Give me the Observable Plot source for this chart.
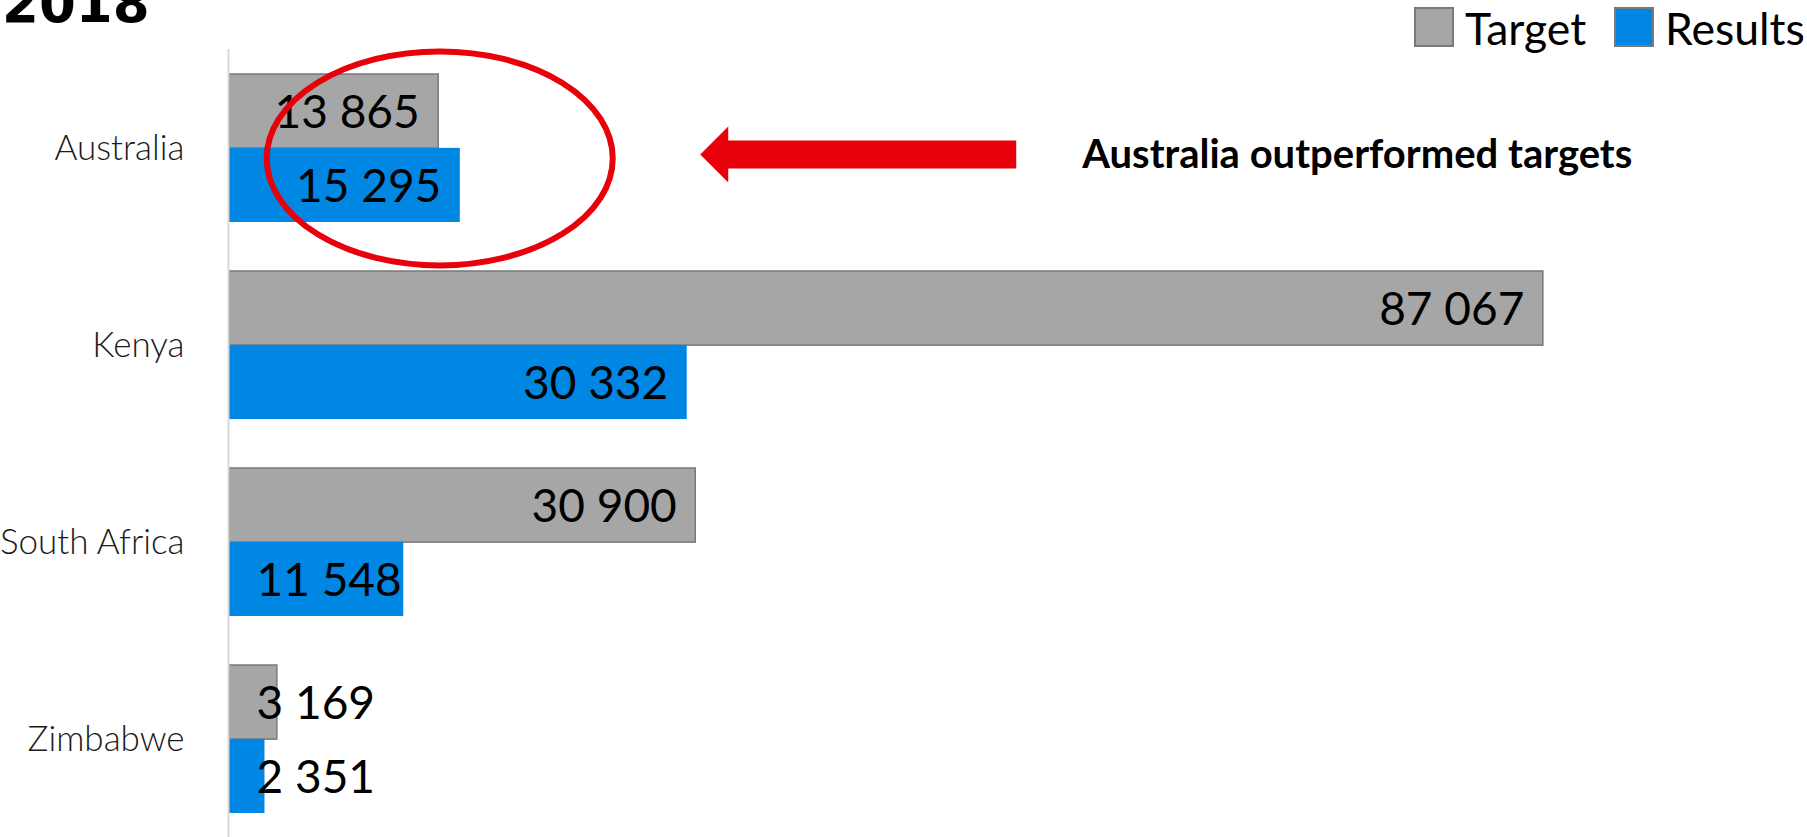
<!DOCTYPE html>
<html><head><meta charset="utf-8">
<script src="https://cdn.jsdelivr.net/npm/d3@7"></script>
<script src="https://cdn.jsdelivr.net/npm/@observablehq/plot@0.6"></script>
<style>
html,body{margin:0;padding:0;background:#fff;overflow:hidden}
#wrap{position:relative;width:1807px;height:837px}
#wrap svg.chart{position:absolute;left:0;top:0}
#wrap .lg-swatches{position:absolute;left:1415px;top:0;height:54px;margin:0 !important;width:max-content;
  flex-wrap:nowrap !important;white-space:nowrap;
  font-family:Lato,sans-serif !important;font-size:44.5px !important;color:#000;display:flex;align-items:center;}
#wrap .lg-swatch{margin-right:29px !important;display:inline-flex;align-items:center}
#wrap .lg-swatch > svg{margin-right:12px !important}
#wrap .lg-swatch > svg rect{stroke:#7a7a7a;stroke-width:2}
#wrap g[aria-label="y-axis tick label"] text{font-weight:300}
</style></head><body><div id="wrap"></div>
<script>
const countries = ["Australia", "Kenya", "South Africa", "Zimbabwe"];
const series = ["Target", "Results"];
const targetValues = [13865, 87067, 30900, 3169];
const resultValues = [15295, 30332, 11548, 2351];
const seriesColors = ["#a6a6a6", "#0086e3"];
const title = "2018";
const note = "Australia outperformed targets";

const rows = [];
countries.forEach((c, i) => {
  rows.push({country: c, series: series[0], value: targetValues[i]});
  rows.push({country: c, series: series[1], value: resultValues[i]});
});

const W = 1807, H = 837;
const mTop = 49, mLeft = 229, mRight = 69;
const yDef = {type: "band", domain: countries, range: [mTop, H], paddingInner: 0.25, paddingOuter: 0.125};
const yScale = Plot.scale({y: yDef});
const bw = yScale.bandwidth;
const half = bw / 2;
const xDef = {domain: [0, 100000], range: [mLeft, W - mRight]};
const xScale = Plot.scale({x: xDef});

const fmt = d3.formatLocale({thousands: " ", grouping: [3], decimal: ".", currency: ["", ""]}).format(",d");
const labelFont = 46;
const labelW = v => { const s = fmt(v); let w = 0; for (const ch of s) w += ch === " " ? 0.19 : 0.58; return w * labelFont; };
const fits = d => xScale.apply(d.value) - xScale.apply(0) >= labelW(d.value) + 19 + 27;

const tRows = rows.filter(d => d.series === series[0]);
const rRows = rows.filter(d => d.series === series[1]);

function annotation(index, scales, values, dims) {
  const xs = scales.x, ys = scales.y;
  const cx = xs(targetValues[0]);
  const bandC = ys(countries[0]) + bw / 2;
  const g = d3.create("svg:g").attr("text-anchor", "start");
  g.append("ellipse").attr("cx", cx + 1.5).attr("cy", bandC + 10.5).attr("rx", 173).attr("ry", 107)
    .attr("fill", "none").attr("stroke", "#e8000b").attr("stroke-width", 6);
  const ay = bandC + 6.5;
  const tip = cx + 262, hb = tip + 28, end = cx + 578;
  g.append("polygon").attr("fill", "#e8000b")
    .attr("points", [[tip, ay], [hb, ay - 28], [hb, ay - 14], [end, ay - 14], [end, ay + 14], [hb, ay + 14], [hb, ay + 28]].map(p => p.join(",")).join(" "));
  g.append("text").attr("x", cx + 644).attr("y", ay).attr("dy", "0.35em").attr("text-anchor", "start")
    .attr("font-family", "Lato, sans-serif").attr("font-weight", "bold").attr("font-size", 40).attr("fill", "#000").text(note);
  g.append("text").attr("x", 2).attr("y", 22).attr("text-anchor", "start")
    .attr("font-family", "DejaVu Sans, sans-serif").attr("font-weight", "bold").attr("font-size", 53).attr("fill", "#000").text(title);
  return g.node();
}

const chart = Plot.plot({
  width: W, height: H,
  marginTop: mTop, marginBottom: 0, marginLeft: mLeft, marginRight: mRight,
  style: {fontFamily: "Lato, sans-serif", background: "transparent", overflow: "visible"},
  x: {...xDef, axis: null},
  y: {domain: countries, paddingInner: 0.25, paddingOuter: 0.125, label: null},
  color: {domain: series, range: seriesColors},
  marks: [
    Plot.barX(tRows, {x: "value", y: "country", fill: "series", stroke: "#787878", strokeWidth: 1.5, insetBottom: half}),
    Plot.barX(rRows, {x: "value", y: "country", fill: "series", insetTop: half}),
    Plot.ruleX([0], {stroke: "#d9d9d9", strokeWidth: 2, dx: -1}),
    Plot.axisY({tickSize: 0, tickPadding: 45, fontSize: 35, label: null, fill: "#1a1a1a"}),
    Plot.text(tRows.filter(fits), {x: "value", y: "country", dy: -half / 2 + 2, dx: -19, textAnchor: "end", text: d => fmt(d.value), fontSize: labelFont, fill: "#000"}),
    Plot.text(tRows.filter(d => !fits(d)), {x: 0, y: "country", dy: -half / 2 + 2, dx: 27, textAnchor: "start", text: d => fmt(d.value), fontSize: labelFont, fill: "#000"}),
    Plot.text(rRows.filter(fits), {x: "value", y: "country", dy: half / 2 + 2, dx: -19, textAnchor: "end", text: d => fmt(d.value), fontSize: labelFont, fill: "#000"}),
    Plot.text(rRows.filter(d => !fits(d)), {x: 0, y: "country", dy: half / 2 + 2, dx: 27, textAnchor: "start", text: d => fmt(d.value), fontSize: labelFont, fill: "#000"}),
    annotation
  ]
});
chart.classList.add("chart");
const wrap = document.getElementById("wrap");
wrap.appendChild(chart);
const lg = chart.legend("color", {className: "lg", swatchSize: 38});
wrap.appendChild(lg);
</script>
</body></html>
